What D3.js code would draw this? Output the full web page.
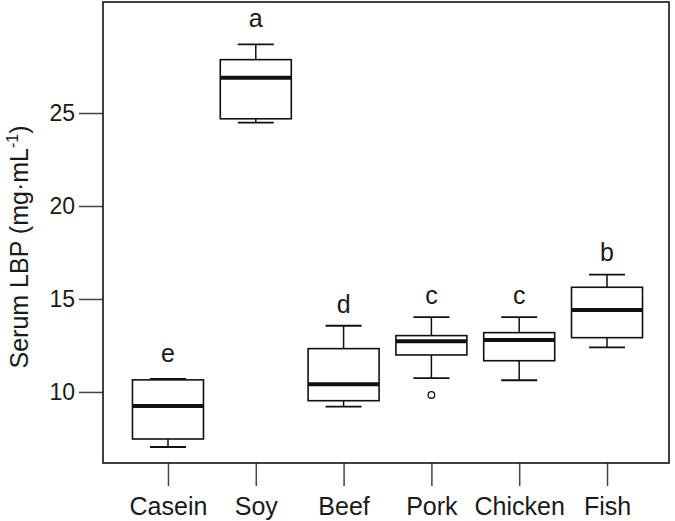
<!DOCTYPE html>
<html><head><meta charset="utf-8">
<script src="https://cdn.jsdelivr.net/npm/d3@7"></script>
<style>body{margin:0;background:#fff}svg{display:block}text{font-family:"Liberation Sans",Arial,sans-serif;fill:#1a1a1a}</style>
</head><body><svg id="c" width="675" height="521"></svg>
<script>
const categories = ["Casein","Soy","Beef","Pork","Chicken","Fish"];
const lowerWhisker = [7.04, 24.48, 9.21, 10.74, 10.63, 12.40];
const q1 = [7.47, 24.69, 9.53, 11.99, 11.68, 12.92];
const median = [9.25, 26.90, 10.41, 12.73, 12.80, 14.41];
const q3 = [10.65, 27.87, 12.33, 13.03, 13.19, 15.63];
const upperWhisker = [10.70, 28.69, 13.56, 14.02, 14.02, 16.31];
const outlierCats = ["Pork"];
const outlierValues = [9.84];
const letters = ["e","a","d","c","c","b"];
const letterValues = [11.59, 29.61, 14.26, 14.72, 14.72, 17.06];
const yTicks = [10, 15, 20, 25];

const svg = d3.select("#c");
const L = 103, R = 669, T = 2, B = 463;
const x = d3.scaleLinear().domain([0.26, 6.706]).range([L, R]);
const y = d3.scaleLinear().domain([6.18, 30.97]).range([B, T]);
const pos = c => x(categories.indexOf(c) + 1);
const boxHalf = 35.5, capHalf = 18;
const fsTick = 23, fs = 25;
const ff = '"Liberation Sans",Arial,sans-serif';

// y axis
const yAxis = d3.axisLeft(y).tickValues(yTicks).tickSize(24).tickPadding(4).tickFormat(d3.format("d"));
const ga = svg.append("g").attr("transform", `translate(${L},0)`).call(yAxis);
ga.select(".domain").remove();
ga.selectAll(".tick line").attr("stroke", "#444").attr("stroke-width", 1.5);
ga.selectAll(".tick text").attr("font-size", fsTick).attr("font-family", ff).attr("fill", "#1a1a1a");

// x axis
const xAxis = d3.axisBottom(x).tickValues(d3.range(1, categories.length + 1)).tickSize(23).tickPadding(11).tickFormat(i => categories[i - 1]);
const gx = svg.append("g").attr("transform", `translate(0,${B})`).call(xAxis);
gx.select(".domain").remove();
gx.selectAll(".tick line").attr("stroke", "#444").attr("stroke-width", 1.5);
gx.selectAll(".tick text").attr("font-size", fs).attr("font-family", ff).attr("fill", "#1a1a1a");

// frame
svg.append("rect").attr("x", L).attr("y", T).attr("width", R - L).attr("height", B - T)
  .attr("fill", "none").attr("stroke", "#111").attr("stroke-width", 1.6);

// boxes
const data = categories.map((c, i) => ({c, lo: lowerWhisker[i], q1: q1[i], med: median[i], q3: q3[i], hi: upperWhisker[i], letter: letters[i], lv: letterValues[i]}));
const g = svg.append("g").attr("stroke", "#111").attr("fill", "none");
data.forEach(d => {
  const cx = pos(d.c);
  g.append("line").attr("x1", cx).attr("x2", cx).attr("y1", y(d.hi)).attr("y2", y(d.q3)).attr("stroke-width", 1.5);
  g.append("line").attr("x1", cx).attr("x2", cx).attr("y1", y(d.lo)).attr("y2", y(d.q1)).attr("stroke-width", 1.5);
  g.append("line").attr("x1", cx - capHalf).attr("x2", cx + capHalf).attr("y1", y(d.hi)).attr("y2", y(d.hi)).attr("stroke-width", 1.8);
  g.append("line").attr("x1", cx - capHalf).attr("x2", cx + capHalf).attr("y1", y(d.lo)).attr("y2", y(d.lo)).attr("stroke-width", 1.8);
  g.append("rect").attr("x", cx - boxHalf).attr("width", 2 * boxHalf).attr("y", y(d.q3)).attr("height", y(d.q1) - y(d.q3))
    .attr("fill", "#fff").attr("stroke-width", 1.6);
  g.append("line").attr("x1", cx - boxHalf).attr("x2", cx + boxHalf).attr("y1", y(d.med)).attr("y2", y(d.med)).attr("stroke-width", 4);
  svg.append("text").attr("x", cx).attr("y", y(d.lv)).attr("text-anchor", "middle").attr("font-size", fs).text(d.letter);
});
outlierCats.forEach((c, i) => {
  g.append("circle").attr("cx", pos(c)).attr("cy", y(outlierValues[i])).attr("r", 3.3).attr("stroke-width", 1.3).attr("fill", "#fff");
});

// y title
const t = svg.append("text").attr("transform", "translate(28,247) rotate(-90)").attr("text-anchor", "middle").attr("font-size", fs);
t.append("tspan").text("Serum LBP (mg\u00b7mL");
t.append("tspan").attr("font-size", 16).attr("dy", -10).text("-1");
t.append("tspan").attr("dy", 10).text(")");
</script></body></html>
